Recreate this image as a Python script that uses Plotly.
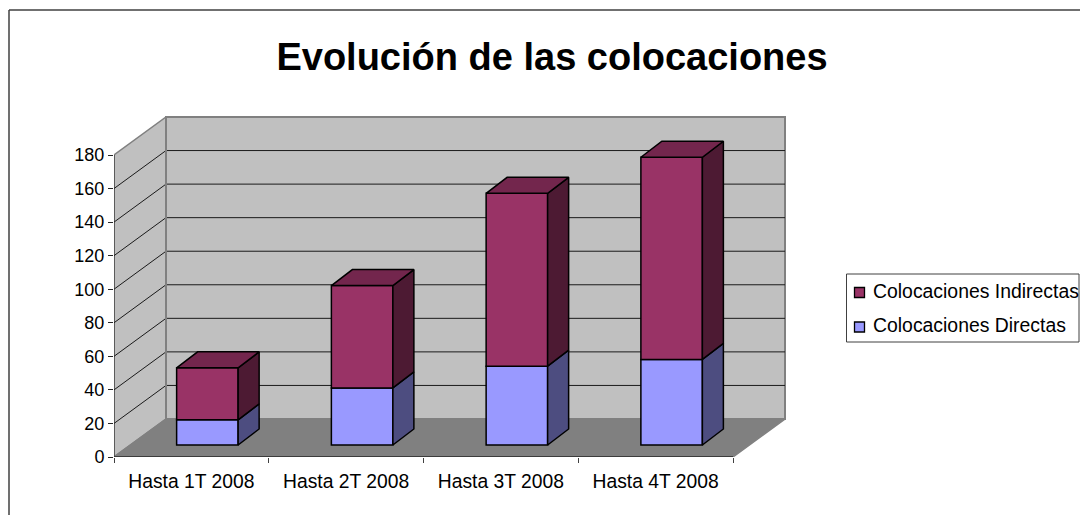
import plotly.graph_objects as go

# ---- data ----
categories = ["Hasta 1T 2008", "Hasta 2T 2008", "Hasta 3T 2008", "Hasta 4T 2008"]
directas = [15, 34, 47, 51]
indirectas = [31, 61, 103, 120.5]
name_directas = "Colocaciones Directas"
name_indirectas = "Colocaciones Indirectas"
y_ticks = [0, 20, 40, 60, 80, 100, 120, 140, 160, 180]
title_text = "Evolución de las colocaciones"

# ---- layout of the plot box on the page (pixels) ----
W, H = 1080, 515
L, R = 114, 786
T, B = 116, 457
PX_PER_CAT = (733 - 114) / 4
PX_PER_VAL = (457 - 155) / 180

def xu(px):  # pixel length -> x units
    return px / PX_PER_CAT

def yu(px):  # pixel length -> y units
    return px / PX_PER_VAL

def pxx(px):  # page x -> paper
    return (px - L) / (R - L)

def pxy(py):  # page y -> paper
    return (B - py) / (B - T)

X0, X1 = -0.5, 3.5
XMAX = X0 + xu(R - L)
YMAX = yu(B - T)
YTOP = 180
WALL_DX, WALL_DY = xu(52), yu(38)
BAR_W = xu(61.5)
BAR_SHIFT = xu(16)
BAR_BASE = yu(12)
BAR_DX, BAR_DY = xu(21), yu(16)

INK = "#000000"
GRID = "#1a1a1a"
WALL = "#C0C0C0"
WALL_EDGE = "#808080"
FLOOR = "#808080"
C_IND, C_IND_SIDE, C_IND_TOP = "#993366", "#4D1A33", "#73264D"
C_DIR, C_DIR_SIDE = "#9999FF", "#4D4D80"
FONT = "Liberation Sans, Arial, sans-serif"

def poly(points):
    return "M" + " L".join(f"{a},{b}" for a, b in points) + " Z"

shapes = []
# walls and floor
shapes.append(dict(type="path", layer="below", xref="x", yref="y",
                   path=poly([(X0 + WALL_DX, WALL_DY), (X1 + WALL_DX, WALL_DY),
                              (X1 + WALL_DX, YTOP + WALL_DY), (X0 + WALL_DX, YTOP + WALL_DY)]),
                   fillcolor=WALL, line=dict(color=WALL_EDGE, width=2)))
shapes.append(dict(type="path", layer="below", xref="x", yref="y",
                   path=poly([(X0, 0), (X0 + WALL_DX, WALL_DY),
                              (X0 + WALL_DX, YTOP + WALL_DY), (X0, YTOP)]),
                   fillcolor=WALL, line=dict(color=WALL_EDGE, width=1.5)))
# gridlines on both walls
for v in y_ticks[1:-1]:
    shapes.append(dict(type="line", layer="below", xref="x", yref="y",
                       x0=X0, y0=v, x1=X0 + WALL_DX, y1=v + WALL_DY,
                       line=dict(color=GRID, width=1)))
    shapes.append(dict(type="line", layer="below", xref="x", yref="y",
                       x0=X0 + WALL_DX, y0=v + WALL_DY, x1=X1 + WALL_DX, y1=v + WALL_DY,
                       line=dict(color=GRID, width=1)))
shapes.append(dict(type="path", layer="below", xref="x", yref="y",
                   path=poly([(X0, 0), (X1, 0), (X1 + WALL_DX, WALL_DY), (X0 + WALL_DX, WALL_DY)]),
                   fillcolor=FLOOR, line=dict(color=WALL_EDGE, width=1.5)))
# axis lines (stop at the front plane)
shapes.append(dict(type="line", layer="below", xref="x", yref="y", x0=X0, y0=0, x1=X1, y1=0,
                   line=dict(color="#262626", width=1.5)))
shapes.append(dict(type="line", layer="below", xref="x", yref="y", x0=X0, y0=0, x1=X0, y1=YTOP,
                   line=dict(color="#262626", width=1)))
shapes.append(dict(type="line", layer="below", xref="x", yref="y", x0=X0 + WALL_DX, y0=WALL_DY,
                   x1=X0 + WALL_DX, y1=YTOP + WALL_DY, line=dict(color=WALL_EDGE, width=2)))

# outer frame: only left and top edges are inside the picture
shapes.append(dict(type="line", xref="paper", yref="paper", x0=pxx(9), y0=pxy(10), x1=pxx(9), y1=pxy(H),
                   line=dict(color="#404040", width=1.5)))
shapes.append(dict(type="line", xref="paper", yref="paper", x0=pxx(9), y0=pxy(10), x1=pxx(W), y1=pxy(10),
                   line=dict(color="#404040", width=1.5)))

# legend box, swatches
shapes.append(dict(type="rect", xref="paper", yref="paper", x0=pxx(846.5), x1=pxx(1079), y0=pxy(342), y1=pxy(274),
                   line=dict(color="#404040", width=1)))
for py, col in [(292.5, C_IND), (327, C_DIR)]:
    shapes.append(dict(type="rect", xref="paper", yref="paper", x0=pxx(854.5), x1=pxx(864.5),
                       y0=pxy(py + 5), y1=pxy(py - 5), fillcolor=col,
                       line=dict(color="#000000", width=1.3)))

annotations = []
for py, txt in [(291, name_indirectas), (325, name_directas)]:
    annotations.append(dict(xref="paper", yref="paper", x=pxx(870.5), y=pxy(py), text=txt, showarrow=False,
                            xanchor="left", yanchor="middle", align="left", xshift=0,
                            font=dict(family=FONT, size=19.4, color="#000000")))

xs = list(range(len(categories)))
base_dir = [BAR_BASE for _ in xs]
base_ind = [BAR_BASE + d for d in directas]

fig = go.Figure()
bar_line = dict(color=INK, width=1.5)
fig.add_trace(go.Bar(x=xs, y=directas, base=base_dir, name=name_directas,
                     width=BAR_W, offset=BAR_SHIFT - BAR_W / 2,
                     marker=dict(color=C_DIR, line=bar_line), showlegend=False))
fig.add_trace(go.Bar(x=xs, y=indirectas, base=base_ind, name=name_indirectas,
                     width=BAR_W, offset=BAR_SHIFT - BAR_W / 2,
                     marker=dict(color=C_IND, line=bar_line), showlegend=False))

def faces(values, bases, top=False):
    px_, py_ = [], []
    for i, v, b in zip(xs, values, bases):
        xl = i + BAR_SHIFT - BAR_W / 2
        xr = i + BAR_SHIFT + BAR_W / 2
        if top:
            pts = [(xl, b + v), (xr, b + v), (xr + BAR_DX, b + v + BAR_DY), (xl + BAR_DX, b + v + BAR_DY), (xl, b + v)]
        else:
            pts = [(xr, b), (xr + BAR_DX, b + BAR_DY), (xr + BAR_DX, b + v + BAR_DY), (xr, b + v), (xr, b)]
        px_ += [p[0] for p in pts] + [None]
        py_ += [p[1] for p in pts] + [None]
    return px_, py_

for vals, bases, col, is_top in [(directas, base_dir, C_DIR_SIDE, False),
                                 (indirectas, base_ind, C_IND_SIDE, False),
                                 (indirectas, base_ind, C_IND_TOP, True)]:
    fx, fy = faces(vals, bases, is_top)
    fig.add_trace(go.Scatter(x=fx, y=fy, mode="lines", fill="toself", fillcolor=col,
                             line=dict(color=INK, width=1.5), hoverinfo="skip", showlegend=False))

fig.update_layout(
    width=W, height=H, autosize=False,
    margin=dict(l=L, r=W - R, t=T, b=H - B, pad=0),
    paper_bgcolor="#FFFFFF", plot_bgcolor="rgba(0,0,0,0)",
    barmode="overlay", showlegend=False,
    font=dict(family=FONT, size=18, color="#000000"),
    title=dict(text=f"<b>{title_text}</b>", x=552 / W, xanchor="center", y=1 - 57 / H, yanchor="middle",
               font=dict(family=FONT, size=38, color="#000000")),
    shapes=shapes, annotations=annotations,
    xaxis=dict(range=[X0, XMAX], tickmode="array", tickvals=xs, ticktext=categories,
               ticks="outside", ticklen=7, tickcolor="rgba(0,0,0,0)", showgrid=False, zeroline=False,
               showline=False, tickfont=dict(family=FONT, size=19.3),
               minor=dict(tickmode="array", tickvals=[X0 + i for i in range(len(categories) + 1)],
                          ticks="outside", ticklen=5, tickcolor="#404040", tickwidth=1, showgrid=False)),
    yaxis=dict(range=[0, YMAX], tickmode="array", tickvals=y_ticks, ticks="outside", ticklen=5,
               tickcolor="#262626", showgrid=False, zeroline=False, showline=False,
               tickfont=dict(family=FONT, size=18)),
)
fig.write_html("out.html", config=dict(displayModeBar=False),
               post_script="document.body.style.margin='0';")
